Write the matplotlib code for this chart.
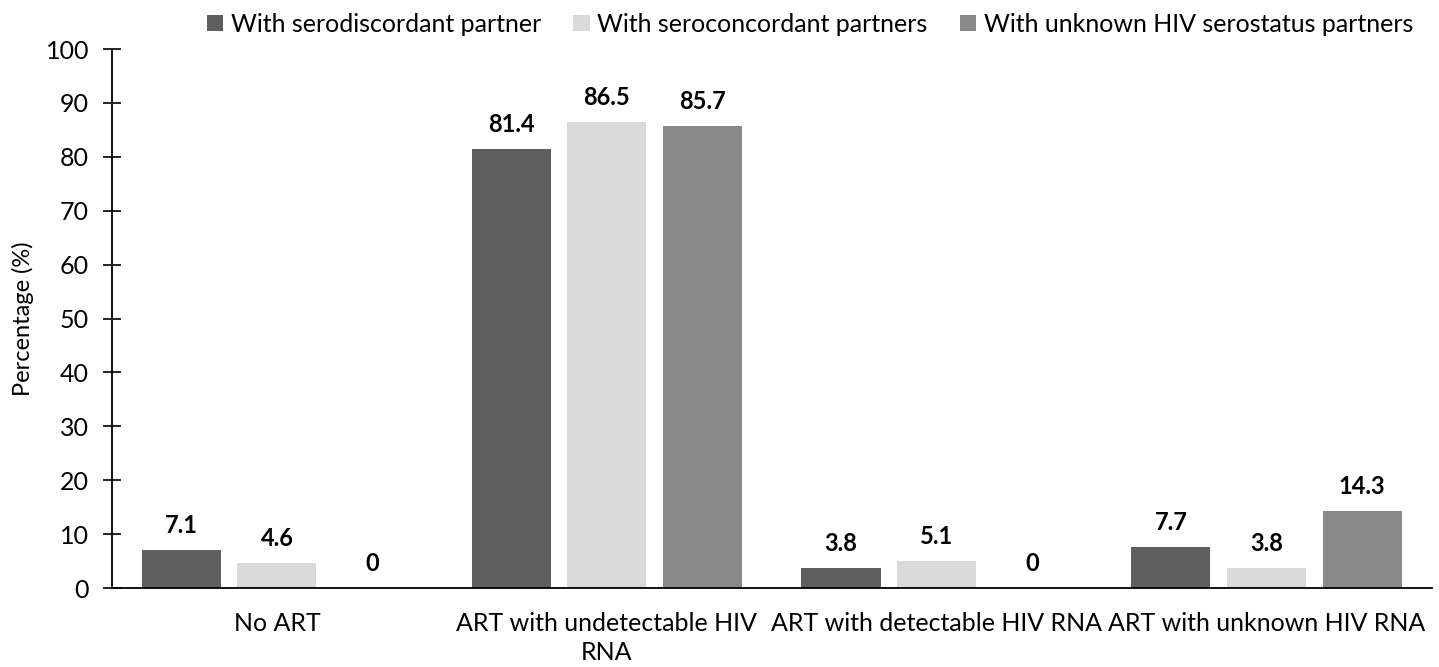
import numpy as np
import matplotlib.pyplot as plt

categories = ["No ART", "ART with undetectable HIV\nRNA",
              "ART with detectable HIV RNA", "ART with unknown HIV RNA"]
series_names = ["With serodiscordant partner", "With seroconcordant partners",
                "With unknown HIV serostatus partners"]
serodiscordant = [7.1, 81.4, 3.8, 7.7]
seroconcordant = [4.6, 86.5, 5.1, 3.8]
unknown_status = [0, 85.7, 0, 14.3]
colors = ["#5f5f5f", "#d9d9d9", "#898989"]

plt.rcParams['font.family'] = ['Lato', 'DejaVu Sans']

fig = plt.figure(figsize=(14.39, 6.67), dpi=100)
ax = fig.add_axes([0.0778, 0.1184, 0.917, 0.8081])

x = np.arange(len(categories))
width = 0.24
offset = 0.29
for i, (vals, name) in enumerate(zip([serodiscordant, seroconcordant, unknown_status], series_names)):
    pos = x + (i - 1) * offset
    ax.bar(pos, vals, width, color=colors[i], label=name)
    for xp, v in zip(pos, vals):
        ax.text(xp, v + 2.4, f"{v:g}", ha='center', va='bottom',
                fontsize=17, fontweight='bold')

ax.set_xlim(-0.5, 3.5)
ax.set_ylim(0, 100)
ax.set_yticks(range(0, 101, 10))
ax.set_xticks(x)
ax.set_xticklabels(categories, fontsize=18, linespacing=1.35)
ax.tick_params(axis='x', length=0, pad=17)
ax.tick_params(axis='y', direction='inout', length=13, width=1.2, labelsize=18, pad=10)
ax.set_ylabel("Percentage (%)", fontsize=17, labelpad=8)
for s in ['top', 'right']:
    ax.spines[s].set_visible(False)
for s in ['left', 'bottom']:
    ax.spines[s].set_linewidth(1.3)

ax.legend(loc='center', bbox_to_anchor=(0.529, 1.046), ncol=3, frameon=False,
          fontsize=18, handlelength=0.65, handleheight=0.65, handletextpad=0.3,
          columnspacing=1.3, borderaxespad=0)

fig.savefig("out.png", dpi=100)
